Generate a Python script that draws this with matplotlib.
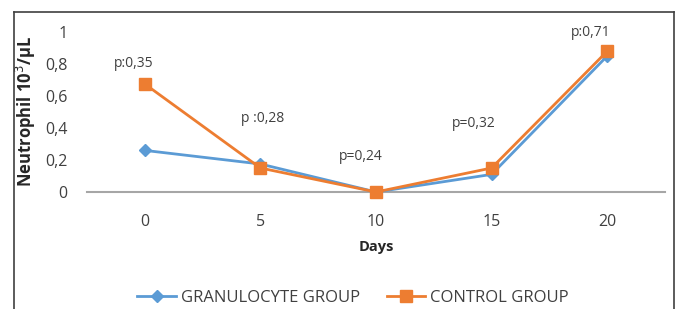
import matplotlib
matplotlib.use("Agg")
import matplotlib.pyplot as plt
from matplotlib.lines import Line2D

plt.rcParams['font.family'] = ['Open Sans', 'DejaVu Sans']

days = ["0", "5", "10", "15", "20"]
granulocyte = [0.26, 0.175, 0.0, 0.11, 0.85]
control = [0.675, 0.15, 0.0, 0.15, 0.88]
p_labels = ["p:0,35", "p :0,28", "p=0,24", "p=0,32", "p:0,71"]
p_label_y = [0.805, 0.46, 0.22, 0.43, 1.0]
p_label_dx = [-0.10, 0.02, -0.13, -0.155, -0.14]
yticks = [0, 0.2, 0.4, 0.6, 0.8, 1]
ytick_labels = ["0", "0,2", "0,4", "0,6", "0,8", "1"]

W, H = 676, 309
fig = plt.figure(figsize=(W / 100, H / 100), dpi=100)
ax = fig.add_axes([87 / W, (H - 192) / H, 578 / W, 160 / H])

x = list(range(len(days)))
blue = "#5B9BD5"
orange = "#ED7D31"
ax.plot(x, granulocyte, color=blue, lw=2, marker="D", markersize=6.5,
        label="GRANULOCYTE GROUP", clip_on=False, zorder=3)
ax.plot(x, control, color=orange, lw=2, marker="s", markersize=8,
        label="CONTROL GROUP", clip_on=False, zorder=4)

for i, lab in enumerate(p_labels):
    ax.text(x[i] + p_label_dx[i], p_label_y[i], lab, ha="center", va="center",
            fontsize=10, color="#404040")

ax.set_xlim(-0.5, len(days) - 0.5)
ax.set_ylim(0, 1)
ax.set_xticks(x)
ax.set_xticklabels(days)
ax.set_yticks(yticks)
ax.set_yticklabels(ytick_labels)
ax.tick_params(axis="both", length=0, labelsize=11.5, colors="#404040")
ax.tick_params(axis="x", pad=16)
ax.tick_params(axis="y", pad=14)
for s in ["top", "right", "left"]:
    ax.spines[s].set_visible(False)
ax.spines["bottom"].set_color("#A6A6A6")
ax.spines["bottom"].set_linewidth(1.5)

ax.set_xlabel("Days", fontsize=10.5, fontweight="bold", labelpad=7, color="#262626")
ax.set_ylabel("Neutrophil 10$^3$/μL", fontsize=12, fontweight="bold",
              color="#262626")
ax.yaxis.set_label_coords((38 - 87) / 578, 0.5)

fig.legend(loc="center", bbox_to_anchor=(353 / W, 1 - 298 / H), ncol=2, frameon=False,
           fontsize=12, handlelength=2.3, handletextpad=0.3, columnspacing=1.6,
           labelcolor="#404040")

border = dict(color="#404040", lw=1.2, transform=fig.transFigure)
fig.add_artist(Line2D([14 / W, 14 / W], [0, 1 - 12 / H], **border))
fig.add_artist(Line2D([14 / W, 674 / W], [1 - 12 / H, 1 - 12 / H], **border))
fig.add_artist(Line2D([674 / W, 674 / W], [0, 1 - 12 / H], **border))

fig.savefig("out.png", dpi=100)
